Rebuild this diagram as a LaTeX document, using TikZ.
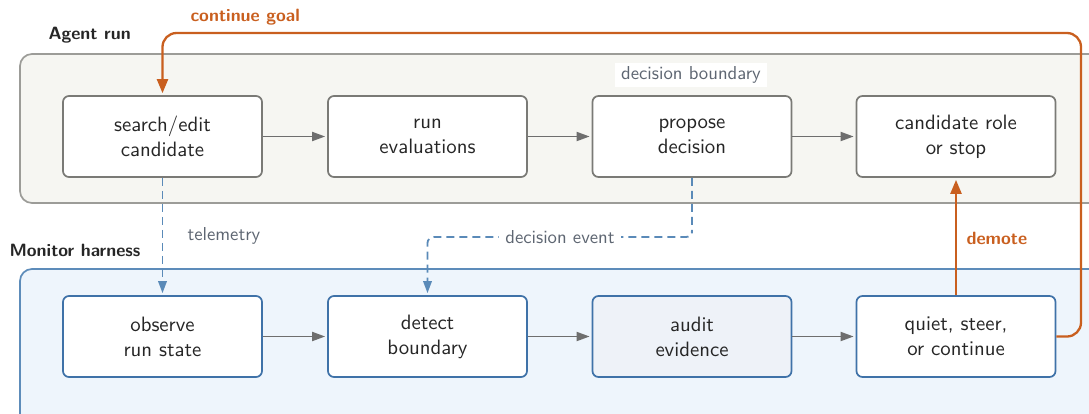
\documentclass[tikz,border=0pt]{standalone}
\usepackage{fontspec}
\setsansfont{lmsans10-regular.otf}[BoldFont=lmsans10-bold.otf]
\usetikzlibrary{arrows.meta}
\definecolor{txt}{HTML}{262626}
\definecolor{lbl}{HTML}{5E6672}
\definecolor{gbord}{HTML}{7A7A76}
\definecolor{pgfill}{HTML}{F6F6F2}
\definecolor{pgbord}{HTML}{9C9C98}
\definecolor{pbfill}{HTML}{EEF5FC}
\definecolor{pbbord}{HTML}{5D8CBA}
\definecolor{bbord}{HTML}{3F72A8}
\definecolor{auditfill}{HTML}{EEF2F8}
\definecolor{orng}{HTML}{C95F1F}
\definecolor{dblue}{HTML}{5A8AB8}
\definecolor{garrow}{HTML}{6E6E6E}
\tikzset{
  x=1pt,y=1pt,
  every node/.style={font=\sffamily},
  topbox/.style={draw=gbord, line width=1.7pt, fill=white, rounded corners=6pt,
    minimum width=199pt, minimum height=81pt, align=center, text=txt,
    font=\sffamily\fontsize{20.8}{25}\selectfont},
  botbox/.style={topbox, draw=bbord},
  flow/.style={draw=garrow, line width=1.8pt, shorten >=2pt, -{Triangle[length=13pt,width=9pt]}},
  dashflow/.style={draw=dblue, line width=1.8pt, dash pattern=on 8pt off 5pt,
    shorten >=2pt, -{Triangle[length=12pt,width=8.5pt]}},
  orflow/.style={draw=orng, line width=2.3pt, shorten >=2pt, -{Triangle[length=14pt,width=11pt]}},
  smalllbl/.style={text=lbl, font=\sffamily\fontsize{18.7}{22}\selectfont},
  headlbl/.style={text=txt, font=\sffamily\bfseries\fontsize{17.8}{21}\selectfont, anchor=west},
  orlbl/.style={text=orng, font=\sffamily\bfseries\fontsize{17.8}{21}\selectfont, anchor=west},
}
\begin{document}
\begin{tikzpicture}
\useasboundingbox (0,0) rectangle (1089,-413);
\clip (0,0) rectangle (1089,-413);
% panels
\draw[draw=pgbord, fill=pgfill, line width=1.7pt, rounded corners=12pt] (20,-54) rectangle (1120,-203);
\draw[draw=pbbord, fill=pbfill, line width=1.7pt, rounded corners=12pt] (20,-269) rectangle (1120,-450);
\node[headlbl] (agentlbl) at (45,-35) {Agent run};
\node[headlbl] (monlbl) at (6,-250) {Monitor harness};
\node[smalllbl, fill=white, inner xsep=6pt, inner ysep=4pt] (dbound) at (691,-75) {decision boundary};
% top row
\node[topbox] (search) at (162.5,-136.5) {search/edit\\candidate};
\node[topbox] (runeval) at (427.5,-136.5) {run\\evaluations};
\node[topbox] (propose) at (692,-136.5) {propose\\decision};
\node[topbox] (cand) at (956,-136.5) {candidate role\\or stop};
% bottom row
\node[botbox] (observe) at (162.5,-336.5) {observe\\run state};
\node[botbox] (detect) at (427.5,-336.5) {detect\\boundary};
\node[botbox, fill=auditfill] (audit) at (692,-336.5) {audit\\evidence};
\node[botbox] (quiet) at (956,-336.5) {quiet, steer,\\or continue};
% flows
\draw[flow] (search) -- (runeval);
\draw[flow] (runeval) -- (propose);
\draw[flow] (propose) -- (cand);
\draw[flow] (observe) -- (detect);
\draw[flow] (detect) -- (audit);
\draw[flow] (audit) -- (quiet);
% telemetry
\draw[dashflow] (search.south) -- (observe.north);
\node[smalllbl, anchor=west] (tele) at (184,-236) {telemetry};
% decision event
\coordinate (dmid) at (692,-237);
\draw[dashflow, rounded corners=6pt] (propose.south) |- (dmid) -| (detect.north);
\node[smalllbl, fill=white, inner xsep=6pt, inner ysep=2pt] (devent) at (560,-237) {decision event};
% demote
\draw[orflow] (quiet.north) -- (cand.south);
\node[orlbl] (demote) at (963,-238) {demote};
% continue goal loop
\coordinate (loopR) at (1081,-33);
\draw[orflow, rounded corners=14pt] (quiet.east) -| (loopR) -| (search.north);
\node[orlbl] (contg) at (187,-17) {continue goal};
\end{tikzpicture}
\end{document}
